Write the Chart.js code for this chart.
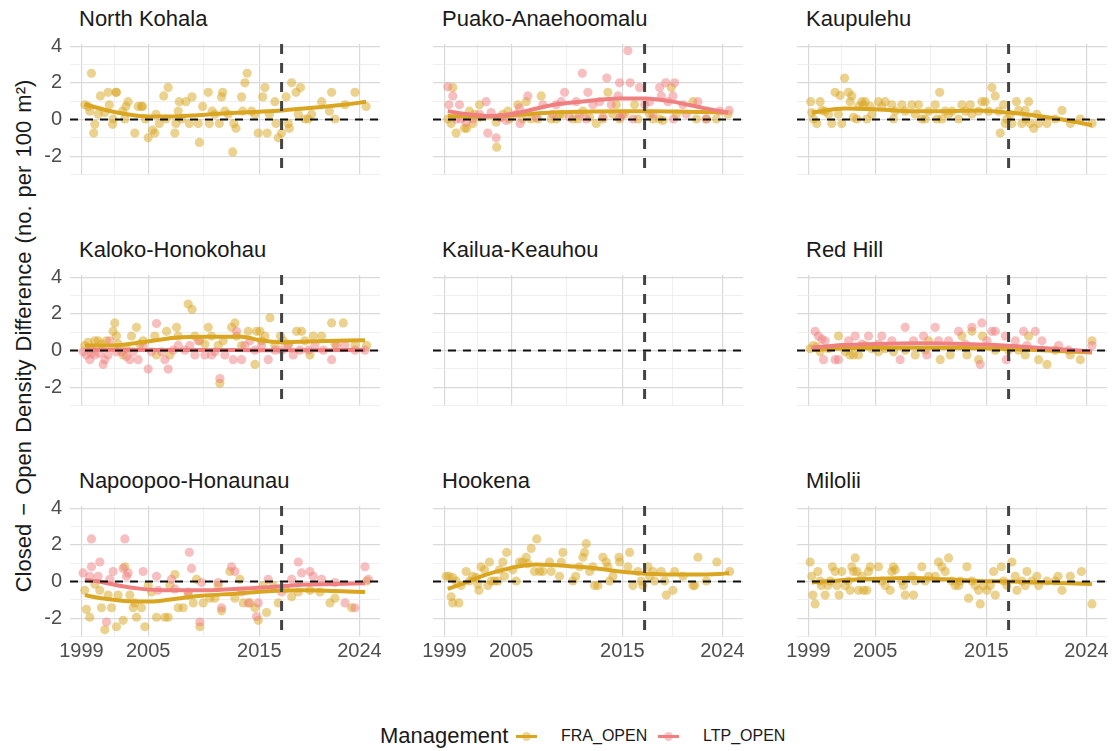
<!DOCTYPE html>
<html>
<head>
<meta charset="utf-8">
<script src="https://cdn.jsdelivr.net/npm/chart.js@4.4.1/dist/chart.umd.min.js"></script>
<style>
  body { margin: 0; background: #fff; font-family: "Liberation Sans", Arial, sans-serif; }
  #wrap { position: relative; width: 1119px; height: 751px; overflow: hidden; background: #fff; }
  #wrap canvas { position: absolute; }
  .facet { position: absolute; font-size: 22px; line-height: 22px; color: #1a1a1a; white-space: nowrap; }
  #ytitle { position: absolute; left: 24px; top: 336px; font-size: 22px; word-spacing: 2px; color: #1a1a1a; white-space: nowrap;
            transform: translate(-50%, -50%) rotate(-90deg); }
  .leg { position: absolute; top: 724px; height: 24px; line-height: 24px; color: #1a1a1a; white-space: nowrap; }
  .key { position: absolute; top: 724px; width: 21px; height: 24px; }
  .key .ln { position: absolute; left: 0; right: 0; top: 10.5px; height: 3px; }
  .key .pt { position: absolute; left: 6px; top: 7.5px; width: 9px; height: 9px; border-radius: 50%; }
</style>
</head>
<body>
<div id="wrap">
  <div id="ytitle">Closed − Open Density Difference (no. per 100 m²)</div>
  <div class="leg" style="left:380px;font-size:22px;">Management</div>
  <div class="key" style="left:516px;"><div class="ln" style="background:#DAA520"></div><div class="pt" style="background:rgba(218,165,32,0.45)"></div></div>
  <div class="leg" style="left:561px;font-size:16px;">FRA_OPEN</div>
  <div class="key" style="left:658px;"><div class="ln" style="background:#F08080"></div><div class="pt" style="background:rgba(240,128,128,0.45)"></div></div>
  <div class="leg" style="left:703px;font-size:16px;">LTP_OPEN</div>
</div>
<script>
// Axes communs à tous les panneaux
const xTicks = [1999, 2005, 2015, 2024];
const xMinorTicks = [2002, 2010, 2019.5];
const yTicks = [-2, 0, 2, 4];
const yMinorTicks = [-3, -1, 1, 3];
const closureYear = 2017;

// Points [année, différence] par site et par gestion
const northKohalaFra = [[1999.3,0.81],[1999.6,0.72],[1999.9,2.53],[1999.75,0.46],[2000.1,-0.74],[2000.2,-0.26],[2000.5,0.29],[2000.7,1.29],[2001.1,0.38],[2001.4,1.49],[2001.5,0.81],[2001.8,-0.26],[2001.85,0.03],[2002.1,1.49],[2002.15,1.49],[2002.7,0.46],[2002.9,0.03],[2003.0,0.72],[2003.2,0.98],[2003.8,-0.74],[2004.1,0.72],[2004.4,0.72],[2004.5,0.72],[2004.75,0.03],[2005.0,-1.0],[2005.4,-0.57],[2005.6,-0.74],[2005.7,0.29],[2006.0,-0.22],[2006.4,1.29],[2006.6,0.03],[2006.8,1.75],[2007.4,-0.74],[2007.5,-0.22],[2007.7,0.46],[2007.8,0.98],[2008.0,0.03],[2008.4,0.98],[2008.7,-0.22],[2008.95,1.24],[2009.5,-0.22],[2009.6,-1.25],[2009.9,0.72],[2010.4,1.49],[2010.5,-0.22],[2010.75,0.46],[2011.0,0.29],[2011.4,-0.22],[2011.6,1.24],[2011.7,1.49],[2011.9,0.46],[2012.2,0.29],[2012.6,-1.77],[2012.7,-0.22],[2012.9,-0.48],[2013.4,1.24],[2013.5,0.46],[2013.7,2.01],[2013.9,2.53],[2014.3,0.46],[2014.6,0.29],[2014.9,-0.74],[2015.3,1.24],[2015.5,1.75],[2015.7,-0.74],[2015.9,0.29],[2016.4,0.98],[2016.5,-0.22],[2016.7,-1.0],[2017.0,-0.74],[2017.4,1.24],[2017.6,-0.22],[2017.7,-0.48],[2017.9,2.01],[2018.3,1.49],[2018.5,0.29],[2018.7,1.75],[2019.1,0.03],[2019.4,0.03],[2019.7,0.29],[2020.6,0.98],[2021.3,0.46],[2021.5,1.49],[2021.8,0.03],[2022.7,0.81],[2023.6,1.49],[2024.6,0.72]];
const northKohalaFraFit = [[1999.3,0.84],[2001,0.55],[2003,0.3],[2005,0.17],[2007,0.17],[2009,0.22],[2011,0.3],[2013,0.37],[2015,0.43],[2017,0.5],[2019,0.6],[2021,0.72],[2023,0.84],[2024.6,0.97]];

const puakoLtp = [[1999.3,1.79],[1999.75,1.29],[1999.4,0.81],[2000.35,0.81],[2002.75,0.98],[2002.9,-0.74],[2003.65,-1.0],[2003.2,0.38],[2004.1,0.12],[2005.45,0.29],[2006.5,1.29],[2005.75,0.64],[2007.85,0.81],[2009.05,0.81],[2009.5,0.98],[2009.8,1.49],[2010.85,0.98],[2011.4,2.53],[2011.9,1.49],[2012.35,0.81],[2012.95,0.98],[2013.6,2.27],[2014.0,0.81],[2014.6,1.29],[2014.75,2.01],[2015.0,0.29],[2015.5,3.76],[2015.7,2.01],[2016.55,1.75],[2017.0,0.81],[2017.45,0.98],[2018.35,1.75],[2018.5,1.29],[2018.9,2.01],[2019.1,0.98],[2019.7,2.01],[2019.55,1.29],[2020.45,0.81],[2021.8,0.98],[2023.75,0.46],[2024.6,0.5],[2000.05,0.03],[2000.5,0.03],[2000.95,-0.14],[2001.55,0.03],[2002.15,0.29],[2003.95,0.12],[2004.55,-0.05],[2005.8,-0.22],[2007.25,0.12],[2008.75,0.29],[2010.25,0.12],[2011.15,0.29],[2011.75,0.03],[2013.25,0.12],[2014.8,0.12],[2015.95,0.03],[2017.75,0.29],[2019.6,0.03],[2020.75,0.29],[2022.55,0.03]];
const puakoFra = [[1999.75,1.75],[1999.3,0.03],[1999.6,-0.22],[2000.05,-0.74],[2000.8,-0.48],[2001.25,0.46],[2001.7,0.29],[2002.15,0.81],[2004.25,0.29],[2004.7,0.46],[2005.6,0.81],[2006.35,0.98],[2006.8,0.03],[2007.7,1.29],[2008.6,0.03],[2009.35,0.29],[2010.55,0.03],[2011.45,0.46],[2012.65,-0.22],[2013.7,1.49],[2014.45,0.81],[2014.75,0.03],[2015.2,0.29],[2016.1,0.81],[2016.4,0.03],[2017.45,0.29],[2017.75,0.03],[2018.35,0.03],[2018.65,-0.05],[2019.4,1.75],[2019.85,0.29],[2021.35,0.98],[2021.65,0.03],[2022.55,0.03],[2023.45,0.03],[2024.5,0.29],[2003.7,-1.51],[2001.0,-0.48],[2001.55,-0.22],[2002.2,0.12],[2003.65,-0.14],[2004.85,0.03],[2006.05,0.03],[2007.4,0.03],[2009.05,0.03],[2009.65,0.29],[2011.0,0.03],[2012.05,0.12],[2013.25,0.03],[2014.15,0.29]];
const puakoLtpFit = [[1999.3,0.46],[2001,0.3],[2002.7,0.2],[2004,0.22],[2005.7,0.38],[2008.7,0.8],[2011.7,1.0],[2014.7,1.15],[2017.1,1.15],[2019.5,0.98],[2022.2,0.64],[2024.5,0.38]];
const puakoFraFit = [[1999.3,0.2],[2002.7,0.15],[2005.7,0.26],[2008.7,0.38],[2011.7,0.43],[2014.7,0.46],[2017.7,0.46],[2020.7,0.43],[2024.5,0.38]];

const kaupulehuFra = [[1999.2,0.98],[1999.3,0.38],[1999.45,0.03],[1999.75,-0.22],[2000.05,0.98],[2000.2,0.5],[2000.5,0.46],[2000.8,0.29],[2001.1,-0.22],[2001.4,1.49],[2001.7,0.29],[2001.85,1.32],[2002.0,-0.22],[2002.25,2.27],[2002.6,1.49],[2002.75,0.98],[2002.9,1.29],[2003.05,0.12],[2003.35,0.03],[2003.5,0.72],[2003.8,0.98],[2003.95,0.81],[2004.1,0.98],[2004.25,0.03],[2004.55,0.72],[2004.7,0.29],[2005.3,0.98],[2005.6,0.72],[2005.9,0.98],[2006.5,0.81],[2006.65,0.03],[2006.8,0.46],[2007.4,0.81],[2007.7,0.46],[2008.3,0.81],[2008.6,0.29],[2008.9,0.81],[2009.2,0.03],[2009.5,0.03],[2009.8,0.46],[2010.4,0.81],[2010.55,0.03],[2010.8,1.49],[2011.0,0.03],[2011.3,0.46],[2011.6,0.29],[2011.9,0.46],[2012.5,0.03],[2012.8,0.81],[2013.1,0.46],[2013.55,0.81],[2013.7,0.29],[2014.3,0.46],[2014.6,0.98],[2014.9,0.98],[2015.2,0.46],[2015.5,1.75],[2015.8,1.29],[2016.1,0.46],[2016.25,-0.74],[2016.55,0.81],[2016.7,-0.22],[2016.85,0.03],[2017.15,0.29],[2017.3,-0.22],[2017.7,0.98],[2017.9,0.5],[2018.2,-0.22],[2018.5,0.5],[2018.55,0.03],[2018.8,0.98],[2018.95,-0.22],[2019.25,-0.48],[2019.55,0.29],[2019.7,-0.22],[2020.45,-0.22],[2021.2,0.03],[2021.8,0.5],[2022.55,-0.22],[2023.45,0.03],[2024.5,-0.22]];
const kaupulehuFraFit = [[1999.3,0.38],[2002.3,0.6],[2005.3,0.55],[2008.3,0.46],[2011.3,0.46],[2014.3,0.5],[2017.0,0.38],[2019.7,0.2],[2022.1,-0.02],[2024.5,-0.31]];

const kalokoFra = [[1999.3,0.27],[1999.6,0.45],[1999.9,0.1],[2000.2,0.53],[2000.5,0.53],[2000.8,0.36],[2001.25,0.53],[2002.0,1.51],[2001.85,1.05],[2002.15,0.79],[2002.3,0.36],[2002.75,-0.24],[2003.05,0.1],[2003.5,0.79],[2003.95,1.27],[2004.25,0.36],[2004.55,0.53],[2005.6,0.79],[2005.75,-0.24],[2006.65,1.05],[2006.95,-0.24],[2007.55,1.27],[2007.7,0.79],[2008.6,2.54],[2008.95,2.25],[2009.2,0.79],[2009.65,0.53],[2010.1,0.36],[2010.4,1.27],[2010.7,0.79],[2011.3,0.27],[2011.45,-1.79],[2011.75,0.53],[2012.5,1.27],[2012.8,1.51],[2012.95,0.79],[2013.4,0.27],[2014.0,1.05],[2014.6,-0.76],[2014.75,1.05],[2015.05,1.05],[2015.2,0.53],[2015.5,0.79],[2015.95,1.79],[2016.4,0.27],[2016.9,0.79],[2017.15,0.53],[2017.6,0.36],[2018.35,1.05],[2018.8,1.05],[2019.1,0.53],[2019.55,-0.24],[2019.85,0.79],[2020.6,0.79],[2021.5,1.51],[2021.8,0.36],[2022.55,1.51],[2023.6,0.27],[2024.65,0.27]];
const kalokoLtp = [[1999.15,-0.07],[1999.45,-0.24],[1999.75,-0.5],[1999.9,-0.15],[2000.2,-0.24],[2000.65,-0.15],[2000.95,-0.76],[2001.1,-0.5],[2001.4,-0.24],[2001.55,0.53],[2002.15,-0.07],[2002.6,-0.07],[2003.05,-0.33],[2003.35,-0.5],[2003.65,-0.07],[2004.1,-0.5],[2004.55,0.27],[2005.0,-1.01],[2005.3,-0.07],[2005.75,1.48],[2006.2,-0.07],[2006.5,-0.5],[2006.8,-1.01],[2007.25,0.02],[2007.7,0.27],[2008.3,0.02],[2008.75,0.27],[2009.2,-0.24],[2009.5,0.53],[2010.1,-0.24],[2010.7,-0.24],[2011.0,-0.07],[2011.45,-1.53],[2011.9,-0.24],[2012.65,-0.5],[2012.95,1.05],[2013.4,-0.5],[2013.7,0.27],[2014.15,0.53],[2014.6,0.02],[2015.2,0.27],[2015.8,-0.5],[2016.4,0.02],[2017.0,0.02],[2017.6,0.27],[2018.05,-0.24],[2018.65,0.02],[2019.4,0.02],[2020.0,0.27],[2020.75,0.02],[2021.5,-0.5],[2021.95,0.27],[2022.7,0.27],[2023.6,0.02],[2024.5,0.02]];
const kalokoFraFit = [[1999.3,0.27],[2001.4,0.27],[2004.4,0.45],[2007.4,0.7],[2010.4,0.76],[2013.4,0.76],[2014.9,0.58],[2017.0,0.45],[2019.4,0.5],[2024.5,0.57]];
const kalokoLtpFit = [[1999.3,0.05],[2005,0.03],[2010,0.03],[2015,0.02],[2020,0.02],[2024.5,0.03]];

const redHillLtp = [[1999.6,1.05],[1999.9,0.79],[2000.2,0.62],[2000.5,0.53],[2000.35,-0.5],[2001.4,-0.5],[2001.7,-0.5],[2002.6,0.53],[2003.2,0.79],[2003.8,0.36],[2004.4,0.79],[2005.3,0.36],[2005.6,0.79],[2006.5,0.53],[2007.25,-0.5],[2007.7,1.27],[2008.45,0.53],[2009.35,0.79],[2009.65,-0.24],[2010.4,1.27],[2010.7,0.53],[2011.6,0.53],[2012.5,1.05],[2013.1,0.36],[2013.7,1.27],[2014.45,-0.76],[2014.6,1.51],[2015.05,0.53],[2015.5,1.05],[2015.8,1.05],[2016.7,0.79],[2016.8,-0.5],[2017.6,0.53],[2018.35,1.05],[2018.65,0.27],[2019.4,1.05],[2020.0,0.53],[2021.5,0.27],[2022.4,0.02],[2024.5,0.27]];
const redHillFra = [[1999.15,0.1],[1999.45,0.27],[1999.75,0.19],[2000.05,-0.07],[2000.8,0.1],[2001.7,0.79],[2002.3,-0.07],[2002.75,-0.24],[2003.05,-0.24],[2003.5,-0.24],[2004.1,0.27],[2004.7,0.1],[2005.3,-0.07],[2005.9,0.1],[2006.65,-0.07],[2007.7,0.02],[2008.6,-0.24],[2009.5,0.02],[2009.8,0.53],[2010.85,-0.5],[2011.75,-0.24],[2012.8,0.79],[2013.25,-0.24],[2013.7,1.05],[2014.3,-0.5],[2014.65,0.79],[2015.8,0.02],[2017.0,0.02],[2017.9,0.02],[2018.5,-0.24],[2018.8,0.79],[2019.7,-0.5],[2020.45,-0.76],[2021.2,0.02],[2022.55,-0.24],[2023.45,-0.5],[2024.5,0.53]];
const redHillLtpFit = [[1999.3,0.15],[2002,0.3],[2005,0.36],[2009,0.4],[2013,0.36],[2017,0.27],[2020,0.14],[2024.5,-0.05]];
const redHillFraFit = [[1999.3,0.05],[2003,0.12],[2008,0.15],[2013,0.14],[2017,0.08],[2020,0.02],[2024.5,-0.1]];

const napoopooLtp = [[1999.15,0.47],[1999.9,0.81],[2000.65,1.07],[2000.5,0.29],[1999.75,0.29],[2001.55,0.12],[2001.85,0.55],[2001.25,-2.21],[2002.75,0.72],[2003.2,0.47],[2003.05,0.29],[2004.55,0.55],[2005.75,0.29],[2005.9,-0.48],[2007.1,0.12],[2007.4,-0.4],[2008.6,-0.57],[2008.9,0.72],[2009.65,-2.21],[2009.8,-0.05],[2011.3,-0.05],[2011.6,-1.43],[2012.5,0.81],[2012.8,0.55],[2013.4,-0.57],[2014.0,-1.17],[2014.9,-1.17],[2014.75,-1.91],[2015.8,0.12],[2017.0,-0.57],[2017.9,0.12],[2018.5,1.07],[2018.8,0.47],[2019.55,0.55],[2019.85,0.29],[2020.6,0.12],[2021.8,-0.05],[2022.7,-1.17],[2023.6,-1.43],[2024.5,0.81],[2024.8,0.12],[1999.9,2.33],[2002.9,2.33],[2008.7,1.6]];
const napoopooFra = [[1999.3,-0.48],[1999.45,-1.52],[1999.75,-1.95],[2000.2,-0.14],[2000.65,-0.48],[2000.8,-1.43],[2001.1,-2.64],[2001.4,-0.74],[2001.7,-1.43],[2002.15,-2.47],[2002.3,-0.74],[2002.75,-2.12],[2002.9,0.81],[2003.35,-0.74],[2003.65,-1.43],[2003.8,-1.17],[2003.95,-1.95],[2004.4,-1.43],[2004.7,-2.47],[2005.0,-0.22],[2005.3,-0.57],[2005.75,-1.95],[2006.5,-1.95],[2006.8,-1.95],[2006.95,-0.22],[2007.4,0.38],[2007.7,-1.43],[2008.15,-1.43],[2008.6,-0.74],[2009.05,-1.17],[2009.35,0.12],[2009.65,-2.47],[2009.95,-1.17],[2010.55,-0.91],[2011.0,-0.91],[2011.3,-0.22],[2011.6,-1.6],[2012.35,0.55],[2012.8,-0.91],[2013.25,0.12],[2013.55,-1.17],[2014.15,-1.17],[2014.6,-1.43],[2014.9,-2.12],[2015.35,-0.22],[2015.65,-1.69],[2016.25,-0.22],[2016.7,-1.17],[2017.3,-0.4],[2017.9,-0.83],[2018.5,-0.57],[2019.55,-0.48],[2020.45,-0.57],[2021.35,-1.17],[2021.8,-0.91],[2023.3,-1.43],[2024.65,0.03]];
const napoopooFraFit = [[1999.3,-0.74],[2000.8,-0.91],[2003.8,-1.09],[2005.3,-1.09],[2006.8,-1.0],[2009.8,-0.78],[2012.8,-0.66],[2015.8,-0.53],[2018.8,-0.48],[2021.8,-0.52],[2024.5,-0.57]];
const napoopooLtpFit = [[1999.3,0.09],[2000.8,-0.02],[2002.3,-0.22],[2004.4,-0.4],[2006.8,-0.48],[2009.8,-0.48],[2012.8,-0.4],[2015.8,-0.31],[2018.8,-0.17],[2021.8,-0.14],[2024.5,-0.09]];

const hookenaFra = [[1999.15,0.29],[1999.4,0.29],[1999.75,0.21],[1999.6,-0.83],[1999.75,-1.17],[2000.3,-1.17],[2000.05,0.03],[2000.5,-0.22],[2000.95,0.55],[2001.25,0.03],[2001.55,0.29],[2001.85,0.21],[2002.0,-0.14],[2002.1,-0.48],[2002.3,0.81],[2002.6,0.64],[2002.9,-0.22],[2003.05,1.07],[2003.2,0.03],[2003.5,0.03],[2003.8,0.03],[2003.95,0.64],[2004.25,1.07],[2004.4,0.29],[2004.6,1.59],[2005.15,0.64],[2005.45,0.03],[2005.75,1.07],[2006.05,1.07],[2006.35,1.33],[2006.5,0.98],[2006.8,1.81],[2007.1,0.55],[2007.3,2.33],[2007.55,0.55],[2007.85,0.55],[2008.45,1.07],[2008.6,0.55],[2009.35,0.29],[2009.5,1.07],[2009.65,1.59],[2010.55,0.03],[2010.8,0.29],[2011.15,0.81],[2011.45,1.33],[2011.6,1.59],[2011.75,2.07],[2012.05,0.55],[2012.35,0.81],[2012.5,-0.22],[2012.8,-0.22],[2013.25,1.33],[2013.55,1.07],[2013.7,0.81],[2013.85,0.03],[2014.15,0.29],[2014.7,1.33],[2014.75,1.07],[2015.5,0.81],[2015.65,1.59],[2015.95,-0.22],[2016.4,0.55],[2016.7,0.03],[2016.85,-0.22],[2017.3,0.81],[2017.45,0.29],[2017.75,0.55],[2017.9,0.03],[2018.5,0.55],[2018.8,0.03],[2018.95,-0.74],[2019.55,-0.48],[2019.7,0.55],[2020.45,0.29],[2021.35,-0.22],[2021.5,-0.22],[2021.8,1.33],[2022.55,0.03],[2023.5,1.07],[2024.65,0.55]];
const hookenaFraFit = [[1999.3,-0.4],[2001.25,0.03],[2002.75,0.38],[2004.25,0.64],[2005.75,0.84],[2007.25,0.93],[2008.75,0.9],[2010.25,0.84],[2011.75,0.78],[2013.25,0.67],[2014.75,0.55],[2016.25,0.47],[2017.75,0.41],[2019.25,0.38],[2020.75,0.38],[2023.75,0.41],[2024.6,0.47]];

const miloliiFra = [[1999.15,1.07],[1999.3,0.29],[1999.4,-0.74],[1999.6,-1.22],[1999.85,0.55],[2000.05,0.03],[2000.15,-0.22],[2000.5,-0.74],[2000.75,-0.22],[2000.95,0.03],[2001.15,0.81],[2001.4,0.55],[2001.55,-0.22],[2001.75,-0.74],[2002.0,0.55],[2002.3,-0.22],[2002.6,0.03],[2002.75,-0.48],[2002.9,0.81],[2003.05,0.55],[2003.2,1.29],[2003.35,0.55],[2003.5,-0.48],[2003.8,0.29],[2003.95,-0.48],[2004.25,-0.48],[2004.4,0.55],[2004.55,0.81],[2005.3,0.81],[2005.6,0.03],[2005.9,-0.22],[2006.35,-0.48],[2006.5,0.55],[2006.65,0.81],[2006.8,0.64],[2007.4,0.03],[2007.55,-0.22],[2007.7,-0.74],[2008.3,0.29],[2008.45,-0.74],[2008.6,0.03],[2009.2,0.81],[2009.5,0.03],[2009.8,0.29],[2010.4,0.29],[2010.7,1.07],[2011.0,0.81],[2011.3,0.55],[2011.6,1.29],[2011.9,0.03],[2012.2,-0.22],[2012.5,-0.22],[2012.65,0.03],[2013.25,0.81],[2013.4,-0.91],[2013.7,0.03],[2014.0,-0.22],[2014.3,-0.48],[2014.45,-1.22],[2014.75,-0.22],[2015.05,-0.48],[2015.35,-0.22],[2015.65,0.55],[2015.8,-0.74],[2016.35,0.81],[2016.55,0.03],[2016.85,-0.22],[2017.3,1.07],[2017.6,0.29],[2017.75,-0.48],[2018.2,0.03],[2018.5,-0.22],[2018.65,0.55],[2019.1,0.03],[2019.55,0.29],[2019.7,-0.22],[2020.45,0.03],[2021.2,0.03],[2021.45,0.29],[2021.8,-0.48],[2022.55,0.29],[2023.55,0.55],[2024.5,-1.22]];
const miloliiFraFit = [[1999.3,-0.05],[2002.3,0.09],[2005.3,0.16],[2008.3,0.19],[2011.3,0.12],[2014.3,0.03],[2017.3,0.0],[2020.3,-0.05],[2024.5,-0.14]];

const siteNames = ['North Kohala', 'Puako-Anaehoomalu', 'Kaupulehu', 'Kaloko-Honokohau', 'Kailua-Keauhou', 'Red Hill', 'Napoopoo-Honaunau', 'Hookena', 'Milolii'];
const fraPoints = [northKohalaFra, puakoFra, kaupulehuFra, kalokoFra, [], redHillFra, napoopooFra, hookenaFra, miloliiFra];
const ltpPoints = [[], puakoLtp, [], kalokoLtp, [], redHillLtp, napoopooLtp, [], []];
const fraFits = [northKohalaFraFit, puakoFraFit, kaupulehuFraFit, kalokoFraFit, [], redHillFraFit, napoopooFraFit, hookenaFraFit, miloliiFraFit];
const ltpFits = [[], puakoLtpFit, [], kalokoLtpFit, [], redHillLtpFit, napoopooLtpFit, [], []];

const FRA_LINE = '#DAA520';
const FRA_FILL = 'rgba(218,165,32,0.5)';
const LTP_LINE = '#F08080';
const LTP_FILL = 'rgba(240,128,128,0.5)';
const FONT = "'Liberation Sans', Arial, sans-serif";

// position des zones de tracé (px)
const panelLeft = [70, 433, 797];
const panelTop = [36, 267, 498];
const PLOT_W = 310, PLOT_H = 139;
const PAD_L = 45, PAD_T = 12, PAD_R = 8, PAD_B = 30;

const toXY = pts => pts.map(p => ({ x: p[0], y: p[1] }));

// lignes de référence : zéro et année de fermeture
const refLines = {
  id: 'refLines',
  afterDatasetsDraw(chart) {
    const { ctx, chartArea: a, scales: { x, y } } = chart;
    ctx.save();
    ctx.beginPath();
    ctx.rect(a.left, a.top, a.right - a.left, a.bottom - a.top);
    ctx.clip();
    const y0 = y.getPixelForValue(0);
    ctx.setLineDash([8, 7]);
    ctx.lineWidth = 2;
    ctx.strokeStyle = '#111111';
    ctx.beginPath();
    ctx.moveTo(a.left, y0);
    ctx.lineTo(a.right, y0);
    ctx.stroke();
    const xc = x.getPixelForValue(closureYear);
    ctx.setLineDash([10, 9]);
    ctx.lineWidth = 3;
    ctx.strokeStyle = '#444444';
    ctx.beginPath();
    ctx.moveTo(xc, a.top);
    ctx.lineTo(xc, a.bottom);
    ctx.stroke();
    ctx.restore();
  }
};

function fitDataset(pts, color, order) {
  return {
    type: 'scatter', data: toXY(pts), showLine: true, borderColor: color, borderWidth: 4,
    pointRadius: 0, tension: 0.4, cubicInterpolationMode: 'monotone', fill: false, order: order
  };
}
function pointDataset(pts, color, order) {
  return {
    type: 'scatter', data: toXY(pts), backgroundColor: color, borderWidth: 0,
    pointRadius: 4.6, order: order
  };
}

const wrap = document.getElementById('wrap');

siteNames.forEach((name, i) => {
  const row = Math.floor(i / 3), col = i % 3;
  const left = panelLeft[col], top = panelTop[row];
  const showY = col === 0, showX = row === 2;

  const title = document.createElement('div');
  title.className = 'facet';
  title.textContent = name;
  title.style.left = (left + 9) + 'px';
  title.style.top = (top - 28) + 'px';
  wrap.appendChild(title);

  const canvas = document.createElement('canvas');
  canvas.width = PAD_L + PLOT_W + PAD_R;
  canvas.height = PAD_T + PLOT_H + PAD_B;
  canvas.style.left = (left - PAD_L) + 'px';
  canvas.style.top = (top - PAD_T) + 'px';
  wrap.appendChild(canvas);

  const datasets = [];
  if (ltpFits[i].length) datasets.push(fitDataset(ltpFits[i], LTP_LINE, 0));
  if (fraFits[i].length) datasets.push(fitDataset(fraFits[i], FRA_LINE, 1));
  if (ltpPoints[i].length) datasets.push(pointDataset(ltpPoints[i], LTP_FILL, 2));
  if (fraPoints[i].length) datasets.push(pointDataset(fraPoints[i], FRA_FILL, 3));

  new Chart(canvas.getContext('2d'), {
    type: 'scatter',
    data: { datasets },
    options: {
      responsive: false,
      animation: false,
      devicePixelRatio: 1,
      events: [],
      layout: { autoPadding: false, padding: { top: PAD_T, right: PAD_R, left: 0, bottom: 0 } },
      plugins: { legend: { display: false }, tooltip: { enabled: false }, title: { display: false } },
      scales: {
        x: {
          type: 'linear', min: 1997.97, max: 2025.85,
          afterBuildTicks: s => { s.ticks = [...xTicks, ...xMinorTicks].sort((a, b) => a - b).map(v => ({ value: v })); },
          afterFit: s => { s.height = PAD_B; },
          border: { display: false },
          grid: {
            drawTicks: false,
            color: c => xTicks.includes(c.tick.value) ? '#d9d9d9' : '#ebebeb',
            lineWidth: c => xTicks.includes(c.tick.value) ? 1.2 : 0.8
          },
          ticks: {
            autoSkip: false, maxRotation: 0, padding: 2, color: '#4d4d4d',
            font: { family: FONT, size: 20 },
            callback: v => (showX && xTicks.includes(v)) ? String(v) : ''
          }
        },
        y: {
          type: 'linear', min: -3.03, max: 4.13,
          afterBuildTicks: s => { s.ticks = [...yTicks, ...yMinorTicks].sort((a, b) => a - b).map(v => ({ value: v })); },
          afterFit: s => { s.width = PAD_L; },
          border: { display: false },
          grid: {
            drawTicks: false,
            color: c => yTicks.includes(c.tick.value) ? '#d9d9d9' : '#ebebeb',
            lineWidth: c => yTicks.includes(c.tick.value) ? 1.2 : 0.8
          },
          ticks: {
            autoSkip: false, padding: 8, color: '#4d4d4d',
            font: { family: FONT, size: 20 },
            callback: v => (showY && yTicks.includes(v)) ? String(v) : ''
          }
        }
      }
    },
    plugins: [refLines]
  });
});
</script>
</body>
</html>
